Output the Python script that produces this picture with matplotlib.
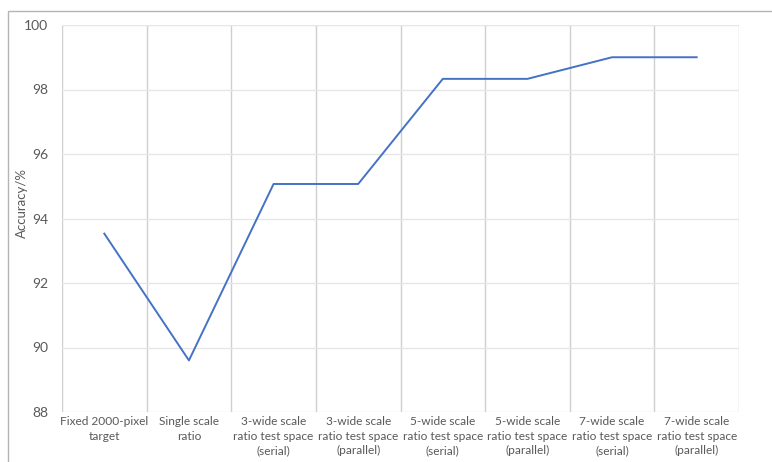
import numpy as np
import matplotlib.pyplot as plt
from matplotlib.patches import Rectangle
from matplotlib.ticker import FixedLocator

methods = [
    "Fixed 2000-pixel\ntarget",
    "Single scale\nratio",
    "3-wide scale\nratio test space\n(serial)",
    "3-wide scale\nratio test space\n(parallel)",
    "5-wide scale\nratio test space\n(serial)",
    "5-wide scale\nratio test space\n(parallel)",
    "7-wide scale\nratio test space\n(serial)",
    "7-wide scale\nratio test space\n(parallel)",
]
accuracy = [93.53, 89.6, 95.07, 95.07, 98.33, 98.33, 99.0, 99.0]
y_ticks = [88, 90, 92, 94, 96, 98, 100]

plt.rcParams['font.family'] = ['Lato', 'DejaVu Sans']
text_grey = '#595959'

fig = plt.figure(figsize=(7.72, 4.62), dpi=100)
fig.patches.append(Rectangle((8 / 772, -0.1), 1.2, 1.1 - 11 / 462,
                             transform=fig.transFigure, fill=False,
                             edgecolor='#b4b4b4', linewidth=1.0))

ax = fig.add_axes([62 / 772, 1 - 412 / 462, 677 / 772, 387 / 462])
x = np.arange(len(methods))
ax.plot(x, accuracy, color='#4472C4', linewidth=1.4, zorder=3)

ax.set_xlim(-0.5, len(methods) - 0.5)
ax.set_ylim(88, 100)
ax.set_yticks(y_ticks)
ax.set_xticks(x)
ax.set_xticklabels(methods, fontsize=8.6, color=text_grey, linespacing=1.38)
ax.tick_params(axis='y', length=0, pad=10, labelsize=10, labelcolor=text_grey)
ax.tick_params(axis='x', length=0, pad=3)

# category separators
ax.xaxis.set_minor_locator(FixedLocator(np.arange(len(methods) + 1) - 0.5))
ax.tick_params(axis='x', which='minor', length=0)
ax.grid(True, axis='x', which='minor', color='#cfcfcf', linewidth=1.0)
ax.grid(True, axis='y', which='major', color='#e6e6e6', linewidth=1.0)
ax.grid(False, axis='x', which='major')
ax.set_axisbelow(True)
for s in ax.spines.values():
    s.set_visible(False)

ax.set_ylabel("Accuracy/%", fontsize=9.5, color=text_grey)
ax.yaxis.set_label_coords(-0.050, 0.54)

fig.savefig("out.png", dpi=100)
